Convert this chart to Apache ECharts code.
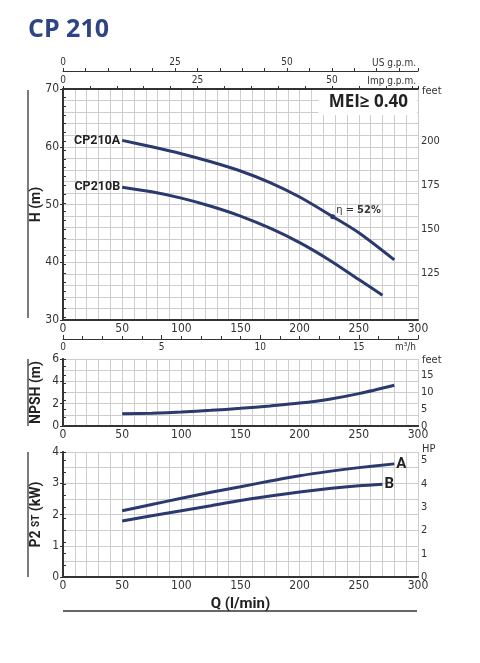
<!DOCTYPE html>
<html><head><meta charset="utf-8">
<script src="https://cdn.jsdelivr.net/npm/echarts@6/dist/echarts.min.js"></script>
<style>html,body{margin:0;padding:0;background:#fff}#c{width:480px;height:663px}</style>
</head><body><div id="c"></div>
<script>
// ---- data ----
const headQA = [50, 75, 100, 125, 150, 175, 200, 228, 250, 280];
const headA  = [61.1, 60.0, 58.8, 57.4, 55.8, 53.8, 51.3, 47.9, 45.1, 40.4];
const headQB = [50, 75, 100, 125, 150, 175, 200, 225, 250, 270];
const headB  = [53.0, 52.2, 51.1, 49.7, 48.0, 45.9, 43.4, 40.4, 37.0, 34.3];
const npshQ  = [50, 75, 100, 125, 150, 175, 200, 225, 250, 280];
const npsh   = [1.1, 1.15, 1.25, 1.4, 1.58, 1.8, 2.05, 2.4, 2.9, 3.65];
const powQA  = [50, 75, 100, 125, 150, 175, 200, 225, 250, 280];
const powA   = [2.12, 2.32, 2.52, 2.71, 2.89, 3.07, 3.24, 3.38, 3.5, 3.62];
const powQB  = [50, 75, 100, 125, 150, 175, 200, 225, 250, 270];
const powB   = [1.79, 1.96, 2.12, 2.28, 2.45, 2.59, 2.72, 2.83, 2.92, 2.97];
const effQ = 228;
const effText = '52%';
const curveNames = ['CP210A', 'CP210B'];
const powerNames = ['A', 'B'];
const titleText = 'CP 210';
const meiText = 'MEI≥ 0.40';

// unit conversions
const M_TO_FT = 3.28084, KW_TO_HP = 1.34102;
const LPM_PER_USGPM = 3.78541, LPM_PER_IMPGPM = 4.54609, LPM_TO_M3H = 0.06;
const Q_MAX = 300;

const NAVY = '#2b3a6e';
const FONT = '"Liberation Sans Narrow","DejaVu Sans Condensed","Roboto",sans-serif';
const BFONT = 'Roboto,"Liberation Sans",sans-serif';
const AX = '#333';
const GRIDC = '#cdcdcd';

function pairs(xs, ys) { return xs.map((x, i) => [x, ys[i]]); }
const isMult = (v, m) => Math.abs(v / m - Math.round(v / m)) < 1e-6;

const baseLabel = { color: '#333', fontFamily: FONT, fontSize: 12 };
const split = { show: true, lineStyle: { color: GRIDC, width: 1 } };
const border = { show: true, lineStyle: { color: AX, width: 1.8 } };

function qAxis(gridIndex, extra) {
  return Object.assign({
    type: 'value', gridIndex, min: 0, max: Q_MAX, interval: 50, position: 'bottom',
    axisLine: border, axisTick: { show: false },
    axisLabel: Object.assign({ margin: 3 }, baseLabel),
    splitLine: split, minorTick: { show: false, splitNumber: 5 }, minorSplitLine: split
  }, extra || {});
}
function topBorder(gridIndex) {
  return { type: 'value', gridIndex, position: 'top', min: 0, max: Q_MAX,
    axisLine: border, axisTick: { show: false }, axisLabel: { show: false }, splitLine: { show: false } };
}
const leftName = { color: '#222', fontFamily: BFONT, fontSize: 14, fontWeight: 'bold' };
const unitStyle = { fill: '#333', font: '11px ' + FONT };

// series data
const headAData = pairs(headQA, headA).map((p, i) => {
  const d = { value: p };
  if (i === 0) d.label = { show: true, position: 'left', distance: 2, formatter: curveNames[0] };
  if (p[0] === effQ) {
    d.symbolSize = 5;
    d.label = { show: true, position: 'right', distance: 1, offset: [0, -6],
      formatter: '{n|η =} {b|' + effText + '}',
      rich: { n: { fontFamily: FONT, fontSize: 11, fontWeight: 'normal', color: '#333' },
              b: { fontFamily: FONT, fontSize: 11, fontWeight: 'bold', color: '#333' } } };
  }
  return d;
});
const headBData = pairs(headQB, headB).map((p, i) => {
  const d = { value: p };
  if (i === 0) d.label = { show: true, position: 'left', distance: 2, formatter: curveNames[1] };
  return d;
});
function endLabelled(xs, ys, name) {
  return pairs(xs, ys).map((p, i) => {
    const d = { value: p };
    if (i === xs.length - 1) d.label = { show: true, position: 'right', distance: 2, formatter: name, fontSize: 15 };
    return d;
  });
}

const lineSeries = (xi, yi, data) => ({
  type: 'line', xAxisIndex: xi, yAxisIndex: yi, data, smooth: 0.3,
  symbol: 'circle', symbolSize: 0, showSymbol: true,
  itemStyle: { color: NAVY },
  lineStyle: { color: NAVY, width: 3 },
  label: { show: false, color: '#222', fontFamily: BFONT, fontSize: 12.5, fontWeight: 'bold' },
  emphasis: { disabled: true }, silent: true, z: 3
});

const gridBase = { containLabel: false, outerBoundsMode: 'none' };

const option = {
  animation: false,
  backgroundColor: '#fff',
  title: [
    { text: titleText, left: 23, top: 12, textStyle: { color: '#2d4584', fontSize: 25, fontWeight: 'bold', fontFamily: '"Open Sans",sans-serif' } },
    { text: meiText, right: 63, top: 90, backgroundColor: '#fff', padding: [4, 9, 4, 10],
      textStyle: { color: '#222', fontSize: 17, fontWeight: 'bold', fontFamily: '"Open Sans",sans-serif' } }
  ],
  grid: [
    Object.assign({ left: 63, top: 89, width: 355, height: 231 }, gridBase),
    Object.assign({ left: 63, top: 359, width: 355, height: 67 }, gridBase),
    Object.assign({ left: 63, top: 452, width: 355, height: 125 }, gridBase)
  ],
  xAxis: [
    qAxis(0),
    { type: 'value', gridIndex: 0, position: 'top', min: 0, max: Q_MAX / LPM_PER_IMPGPM, interval: 25,
      axisLine: border, axisTick: { show: true, length: 3, lineStyle: { color: AX } },
      minorTick: { show: true, splitNumber: 5, length: 3, lineStyle: { color: AX } },
      axisLabel: Object.assign({}, baseLabel, { fontSize: 10, margin: 4, formatter: v => isMult(v, 25) ? v : '' }), splitLine: { show: false },
      name: 'Imp g.p.m.', nameLocation: 'end', nameGap: -2,
      nameTextStyle: { align: 'right', verticalAlign: 'bottom', fontFamily: FONT, fontSize: 10, color: '#333', padding: [0, 0, 3, 0] } },
    { type: 'value', gridIndex: 0, position: 'top', offset: 18, min: 0, max: Q_MAX / LPM_PER_USGPM, interval: 25,
      axisLine: { show: true, lineStyle: { color: AX, width: 1 } }, axisTick: { show: true, length: 3, lineStyle: { color: AX } },
      minorTick: { show: true, splitNumber: 5, length: 3, lineStyle: { color: AX } },
      axisLabel: Object.assign({}, baseLabel, { fontSize: 10, margin: 4, formatter: v => (v < 60 && isMult(v, 25)) ? v : '' }), splitLine: { show: false },
      name: 'US g.p.m.', nameLocation: 'end', nameGap: -2,
      nameTextStyle: { align: 'right', verticalAlign: 'bottom', fontFamily: FONT, fontSize: 10, color: '#333', padding: [0, 0, 3, 0] } },
    { type: 'value', gridIndex: 0, position: 'bottom', offset: 19, min: 0, max: Q_MAX * LPM_TO_M3H, interval: 5,
      axisLine: { show: true, lineStyle: { color: AX, width: 1 } },
      axisTick: { show: true, inside: true, length: 4, lineStyle: { color: AX } },
      minorTick: { show: true, splitNumber: 5, length: 3, lineStyle: { color: AX } },
      axisLabel: Object.assign({}, baseLabel, { fontSize: 10, margin: 3, formatter: v => (v < 16 && isMult(v, 5)) ? v : '' }), splitLine: { show: false },
      name: 'm³/h', nameLocation: 'end', nameGap: -2,
      nameTextStyle: { align: 'right', verticalAlign: 'top', fontFamily: FONT, fontSize: 10, color: '#333', padding: [3, 0, 0, 0] } },
    qAxis(1),
    topBorder(1),
    qAxis(2, { name: 'Q (l/min)', nameLocation: 'middle', nameGap: 20,
      nameTextStyle: { color: '#222', fontFamily: BFONT, fontSize: 15, fontWeight: 'bold' } }),
    topBorder(2)
  ],
  yAxis: [
    { type: 'value', gridIndex: 0, min: 30, max: 70, interval: 10, position: 'left',
      axisLine: border, axisTick: { show: true, length: 3, lineStyle: { color: AX } },
      axisLabel: Object.assign({ margin: 4 }, baseLabel),
      splitLine: split, minorTick: { show: false, splitNumber: 5 }, minorSplitLine: split,
      name: 'H (m)', nameLocation: 'middle', nameGap: 20, nameMoveOverlap: false, nameTextStyle: leftName },
    { type: 'value', gridIndex: 0, position: 'right', min: 30 * M_TO_FT, max: 70 * M_TO_FT,
      minInterval: 25, maxInterval: 25, splitNumber: 5,
      axisLine: border, axisTick: { show: true, length: 3, lineStyle: { color: AX } },
      minorTick: { show: true, splitNumber: 5, length: 3, lineStyle: { color: AX } },
      axisLabel: Object.assign({}, baseLabel, { fontSize: 11, margin: 3, formatter: v => (v >= 124 && v <= 201 && isMult(v, 25)) ? v : '' }),
      splitLine: { show: false } },
    { type: 'value', gridIndex: 1, min: 0, max: 6, interval: 2, position: 'left',
      axisLine: border, axisTick: { show: true, length: 3, lineStyle: { color: AX } },
      axisLabel: Object.assign({ margin: 4 }, baseLabel),
      splitLine: split, minorTick: { show: false, splitNumber: 2 }, minorSplitLine: split,
      name: 'NPSH (m)', nameLocation: 'middle', nameGap: 20, nameMoveOverlap: false, nameTextStyle: leftName },
    { type: 'value', gridIndex: 1, position: 'right', min: 0, max: 6 * M_TO_FT, interval: 5,
      axisLine: border, axisTick: { show: true, length: 3, lineStyle: { color: AX } },
      minorTick: { show: true, splitNumber: 2, length: 3, lineStyle: { color: AX } },
      axisLabel: Object.assign({}, baseLabel, { fontSize: 11, margin: 3, formatter: v => isMult(v, 5) ? v : '' }), splitLine: { show: false } },
    { type: 'value', gridIndex: 2, min: 0, max: 4, interval: 1, position: 'left',
      axisLine: border, axisTick: { show: true, length: 3, lineStyle: { color: AX } },
      axisLabel: Object.assign({ margin: 4 }, baseLabel),
      splitLine: split, minorTick: { show: false, splitNumber: 2 }, minorSplitLine: split,
      name: 'P2 {s|ST} (kW)', nameLocation: 'middle', nameGap: 20, nameMoveOverlap: false,
      nameTextStyle: Object.assign({}, leftName, { rich: { s: { fontFamily: BFONT, fontSize: 10, fontWeight: 'bold', color: '#222' } } }) },
    { type: 'value', gridIndex: 2, position: 'right', min: 0, max: 4 * KW_TO_HP, interval: 1,
      axisLine: border, axisTick: { show: true, length: 3, lineStyle: { color: AX } },
      minorTick: { show: true, splitNumber: 2, length: 3, lineStyle: { color: AX } },
      axisLabel: Object.assign({}, baseLabel, { fontSize: 11, margin: 3, formatter: v => isMult(v, 1) ? v : '' }), splitLine: { show: false } }
  ],
  graphic: [
    { type: 'line', shape: { x1: 28, y1: 90, x2: 28, y2: 318 }, style: { stroke: '#333', lineWidth: 1.3 } },
    { type: 'line', shape: { x1: 28, y1: 359, x2: 28, y2: 426 }, style: { stroke: '#333', lineWidth: 1.3 } },
    { type: 'line', shape: { x1: 28, y1: 452, x2: 28, y2: 577 }, style: { stroke: '#333', lineWidth: 1.3 } },
    { type: 'line', shape: { x1: 63, y1: 611, x2: 417, y2: 611 }, style: { stroke: '#333', lineWidth: 1.3 } },
    { type: 'text', left: 422, top: 86, style: Object.assign({ text: 'feet' }, unitStyle) },
    { type: 'text', left: 422, top: 355, style: Object.assign({ text: 'feet' }, unitStyle) },
    { type: 'text', left: 422, top: 444, style: Object.assign({ text: 'HP' }, unitStyle) }
  ],
  series: [
    lineSeries(0, 0, headAData),
    lineSeries(0, 0, headBData),
    lineSeries(4, 2, pairs(npshQ, npsh)),
    lineSeries(6, 4, endLabelled(powQA, powA, powerNames[0])),
    lineSeries(6, 4, endLabelled(powQB, powB, powerNames[1]))
  ]
};

const chart = echarts.init(document.getElementById('c'), null, { renderer: 'canvas' });
chart.setOption(option);
</script>
</body></html>
